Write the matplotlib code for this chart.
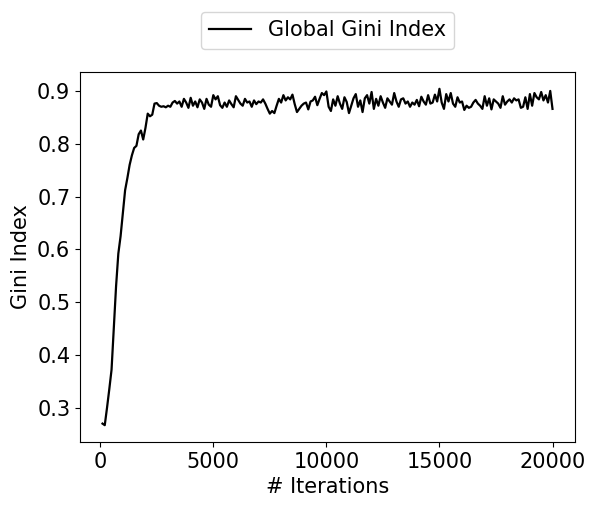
import matplotlib
matplotlib.use("Agg")
import matplotlib.pyplot as plt
import numpy as np

iterations = list(range(100, 20001, 100))

gini_rise = [0.270, 0.267, 0.300, 0.335, 0.372, 0.450, 0.530, 0.592, 0.625, 0.668,
             0.712, 0.735, 0.760, 0.778, 0.792, 0.796, 0.818, 0.825, 0.808, 0.830,
             0.857, 0.852, 0.855, 0.876, 0.877, 0.872, 0.870, 0.871, 0.869]

gini_plateau = [
    0.872, 0.870, 0.878, 0.881, 0.876, 0.880, 0.870, 0.885, 0.878, 0.868,
    0.887, 0.872, 0.880, 0.869, 0.884, 0.878, 0.866, 0.885, 0.874, 0.870,
    0.892, 0.884, 0.890, 0.873, 0.868, 0.878, 0.870, 0.882, 0.875, 0.869,
    0.890, 0.883, 0.876, 0.872, 0.885, 0.878, 0.880, 0.870, 0.882, 0.875,
    0.880, 0.878, 0.884, 0.876, 0.866, 0.857, 0.862, 0.858, 0.872, 0.885,
    0.878, 0.892, 0.882, 0.888, 0.884, 0.893, 0.875, 0.860, 0.866, 0.872,
    0.876, 0.878, 0.865, 0.880, 0.882, 0.889, 0.873, 0.885, 0.896, 0.892,
    0.899, 0.870, 0.862, 0.884, 0.872, 0.890, 0.876, 0.866, 0.888, 0.879,
    0.858, 0.872, 0.886, 0.894, 0.870, 0.882, 0.860, 0.886, 0.892, 0.876,
    0.898, 0.866, 0.885, 0.872, 0.890, 0.878, 0.868, 0.886, 0.880, 0.874,
    0.896, 0.880, 0.870, 0.884, 0.886, 0.876, 0.880, 0.870, 0.878, 0.874,
    0.883, 0.871, 0.889, 0.880, 0.874, 0.892, 0.876, 0.878, 0.893, 0.880,
    0.904, 0.878, 0.866, 0.894, 0.880, 0.896, 0.876, 0.870, 0.888, 0.878,
    0.880, 0.864, 0.872, 0.868, 0.870, 0.878, 0.883, 0.876, 0.872, 0.866,
    0.890, 0.872, 0.886, 0.865, 0.884, 0.880, 0.876, 0.868, 0.890, 0.874,
    0.880, 0.884, 0.878, 0.886, 0.882, 0.884, 0.868, 0.870, 0.888, 0.866,
    0.894, 0.872, 0.896, 0.888, 0.884, 0.898, 0.882, 0.892, 0.878, 0.900,
    0.866,
]

gini = gini_rise + gini_plateau

fig = plt.figure(figsize=(5.95, 5.08), dpi=100)
ax = fig.add_axes([80/595, 1-442/508, (575-80)/595, (442-72)/508])
ax.plot(iterations, gini, color="black", linewidth=1.6, label="Global Gini Index")
ax.set_xlabel("# Iterations", fontsize=15)
ax.set_ylabel("Gini Index", fontsize=15)
ax.tick_params(labelsize=15)
ax.set_xticks([0, 5000, 10000, 15000, 20000])
ax.set_yticks([0.3, 0.4, 0.5, 0.6, 0.7, 0.8, 0.9])
ax.legend(loc="upper center", bbox_to_anchor=(0.5, 1.19), fontsize=15, frameon=True)
fig.savefig("out.png", dpi=100)
